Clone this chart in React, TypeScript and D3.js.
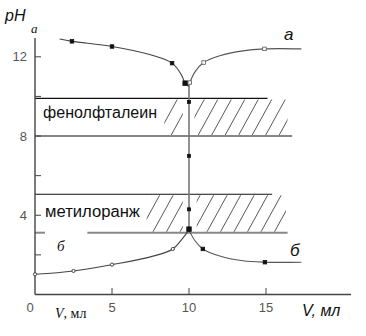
import React from "react";
import * as d3 from "d3";

// ---- data ----
const xTicks = [0, 5, 10, 15];
const yTickLabels = [4, 8, 12];
const yTicksAll = [2, 4, 6, 8, 10, 12];

// curve а, left part (descending to the equivalence point)
const a1V = [1.6, 2.4, 5.0, 7.5, 8.9, 9.5, 9.75, 10.0];
const a1pH = [12.9, 12.78, 12.52, 12.1, 11.68, 11.1, 10.67, 10.5];
const a1MarkV = [2.4, 5.0, 8.9, 9.75];
const a1MarkPH = [12.78, 12.52, 11.68, 10.67];

// right upper part
const a2V = [10.0, 10.4, 10.95, 12.0, 13.5, 14.9, 17.3];
const a2pH = [10.6, 11.25, 11.71, 12.05, 12.3, 12.4, 12.4];
const a2MarkV = [10.05, 10.95, 14.9];
const a2MarkPH = [10.7, 11.71, 12.4];

// titration jump
const jumpV = [10, 10];
const jumpPH = [10.6, 3.25];
const jumpMarkPH = [9.72, 7.0, 4.3];
const jumpBigPH = [3.3];

// curve б, left part (ascending)
const b1V = [0, 2.5, 5.0, 7.5, 8.95, 9.6, 10.0];
const b1pH = [1.02, 1.19, 1.51, 1.9, 2.3, 2.85, 3.25];
const b1MarkV = [0, 2.5, 5.0, 8.95];
const b1MarkPH = [1.02, 1.19, 1.51, 2.3];

// right lower part
const b2V = [10.0, 10.4, 10.9, 12.0, 13.5, 14.9, 17.3];
const b2pH = [3.25, 2.7, 2.3, 1.94, 1.7, 1.63, 1.63];
const b2MarkV = [10.9, 14.93];
const b2MarkPH = [2.3, 1.63];

// indicator ranges
const phenolRange = [8.0, 9.9];
const methylRange = [3.12, 5.06];
const phenolLabel = "фенолфталеин";
const methylLabel = "метилоранж";

const W = 366;
const H = 336;

export default function App() {
  const x = d3.scaleLinear().domain([0, 15]).range([35, 266]);
  const y = d3.scaleLinear().domain([0, 12]).range([294.5, 56.8]);

  const line = d3
    .line<[number, number]>()
    .x((d) => x(d[0]))
    .y((d) => y(d[1]))
    .curve(d3.curveCatmullRom.alpha(0.5));
  const zip = (a: number[], b: number[]) => a.map((v, i) => [v, b[i]] as [number, number]);

  const hatch = (v0: number, v1: number, r: number[], gapA: number, gapB: number, key: string) => {
    const yb = y(r[0]);
    const yt = y(r[1]);
    const h = yb - yt;
    const dx = 0.55 * h;
    const xs = d3.range(x(v0) - dx, x(v1), 13.5);
    return (
      <g key={key}>
        <clipPath id={"clip" + key}>
          <rect x={x(v0)} y={yt + 1} width={x(gapA) - x(v0)} height={h - 2} />
          <rect x={x(gapB)} y={yt + 1} width={x(v1) - x(gapB)} height={h - 2} />
        </clipPath>
        <g clipPath={`url(#clip${key})`}>
          {xs.map((x0, i) => (
            <line key={i} x1={x0} y1={yb} x2={x0 + dx} y2={yt} stroke="#3a3a3a" strokeWidth={0.85} />
          ))}
        </g>
      </g>
    );
  };

  const sq = (v: number, p: number, s: number, fill: string, stroke: string, k: string) => (
    <rect key={k} x={x(v) - s / 2} y={y(p) - s / 2} width={s} height={s} fill={fill} stroke={stroke} strokeWidth={0.8} />
  );

  return (
    <svg width={W} height={H} style={{ position: "absolute", left: 0, top: 0, background: "#fff" }}>
      {/* hatch areas */}
      {hatch(8.4, 16.4, phenolRange, 9.6, 10.35, "ph")}
      {hatch(7.25, 16.3, methylRange, 9.6, 10.5, "mo")}

      {/* band lines */}
      <line x1={x(0)} x2={x(15.1)} y1={y(phenolRange[1])} y2={y(phenolRange[1])} stroke="#111" strokeWidth={1.1} />
      <line x1={x(0)} x2={x(16.7)} y1={y(phenolRange[0])} y2={y(phenolRange[0])} stroke="#111" strokeWidth={1.1} />
      <line x1={x(0)} x2={x(15.4)} y1={y(methylRange[1])} y2={y(methylRange[1])} stroke="#111" strokeWidth={1.1} />
      <line x1={x(0)} x2={x(0.65)} y1={y(methylRange[0])} y2={y(methylRange[0])} stroke="#888" strokeWidth={2} />
      <line x1={x(3.4)} x2={x(16.4)} y1={y(methylRange[0])} y2={y(methylRange[0])} stroke="#888" strokeWidth={2} />

      <text x={43} y={118} fontFamily="Liberation Sans, Arial, sans-serif" fontSize={16} fill="#111" textLength={114} lengthAdjust="spacingAndGlyphs">
        {phenolLabel}
      </text>
      <text x={45} y={217} fontFamily="Liberation Sans, Arial, sans-serif" fontSize={16} fill="#111" textLength={95} lengthAdjust="spacingAndGlyphs">
        {methylLabel}
      </text>

      {/* axes */}
      <line x1={35} x2={35} y1={38} y2={294.5} stroke="#444" strokeWidth={1.4} />
      <line x1={35} x2={351} y1={294.5} y2={294.5} stroke="#444" strokeWidth={1.4} />
      {yTicksAll.map((t) => (
        <line key={"yt" + t} x1={35} x2={41} y1={y(t)} y2={y(t)} stroke="#444" strokeWidth={1} />
      ))}
      {xTicks.filter((t) => t > 0).map((t) => (
        <line key={"xt" + t} x1={x(t)} x2={x(t)} y1={294.5} y2={288} stroke="#444" strokeWidth={1} />
      ))}
      {yTickLabels.map((t) => (
        <text key={"yl" + t} x={27} y={y(t) + 4.5} textAnchor="end" fontFamily="Liberation Sans, Arial, sans-serif" fontSize={13} fill="#555">
          {t}
        </text>
      ))}
      {xTicks.map((t) => (
        <text key={"xl" + t} x={t === 0 ? 30 : x(t)} y={312} textAnchor="middle" fontFamily="Liberation Sans, Arial, sans-serif" fontSize={13} fill="#555">
          {t}
        </text>
      ))}

      {/* curves */}
      <path d={line(zip(jumpV, jumpPH)) || ""} fill="none" stroke="#777" strokeWidth={1.6} />
      <path d={line(zip(a1V, a1pH)) || ""} fill="none" stroke="#444" strokeWidth={1.1} />
      <path d={line(zip(a2V, a2pH)) || ""} fill="none" stroke="#555" strokeWidth={1.1} />
      <path d={line(zip(b1V, b1pH)) || ""} fill="none" stroke="#444" strokeWidth={1.1} />
      <path d={line(zip(b2V, b2pH)) || ""} fill="none" stroke="#555" strokeWidth={1.1} />

      {a1MarkV.map((v, i) => sq(v, a1MarkPH[i], i === 3 ? 4.5 : 3.5, "#111", "#111", "a1" + i))}
      {a2MarkV.map((v, i) => sq(v, a2MarkPH[i], 3.5, "#fff", "#555", "a2" + i))}
      {jumpMarkPH.map((p, i) => sq(10, p, 3, "#111", "#111", "j" + i))}
      {jumpBigPH.map((p, i) => sq(10, p, 4.5, "#111", "#111", "jb" + i))}
      {b1MarkV.map((v, i) => (
        <circle key={"b1" + i} cx={x(v)} cy={y(b1MarkPH[i])} r={1.6} fill="#fff" stroke="#333" strokeWidth={0.9} />
      ))}
      {b2MarkV.map((v, i) => sq(v, b2MarkPH[i], 3.5, "#111", "#111", "b2" + i))}

      {/* labels */}
      <text x={5} y={21} fontFamily="Liberation Sans, Arial, sans-serif" fontSize={16} fontStyle="italic" fill="#111">
        pН
      </text>
      <text x={31} y={33} fontFamily="Liberation Serif, Times New Roman, serif" fontSize={13} fontStyle="italic" fill="#111">
        a
      </text>
      <text x={284} y={40} fontFamily="Liberation Sans, Arial, sans-serif" fontSize={17} fontStyle="italic" fill="#111">
        а
      </text>
      <text x={290} y={256} fontFamily="Liberation Sans, Arial, sans-serif" fontSize={17} fontStyle="italic" fill="#111">
        б
      </text>
      <text x={57} y={251} fontFamily="Liberation Serif, Times New Roman, serif" fontSize={15} fontStyle="italic" fill="#111">
        б
      </text>
      <text x={302} y={316} fontFamily="Liberation Sans, Arial, sans-serif" fontSize={16} fontStyle="italic" fill="#111">
        V,  мл
      </text>
      <text x={55} y={318} fontFamily="Liberation Serif, Times New Roman, serif" fontSize={14} fill="#111">
        <tspan fontStyle="italic">V</tspan>, мл
      </text>
    </svg>
  );
}
